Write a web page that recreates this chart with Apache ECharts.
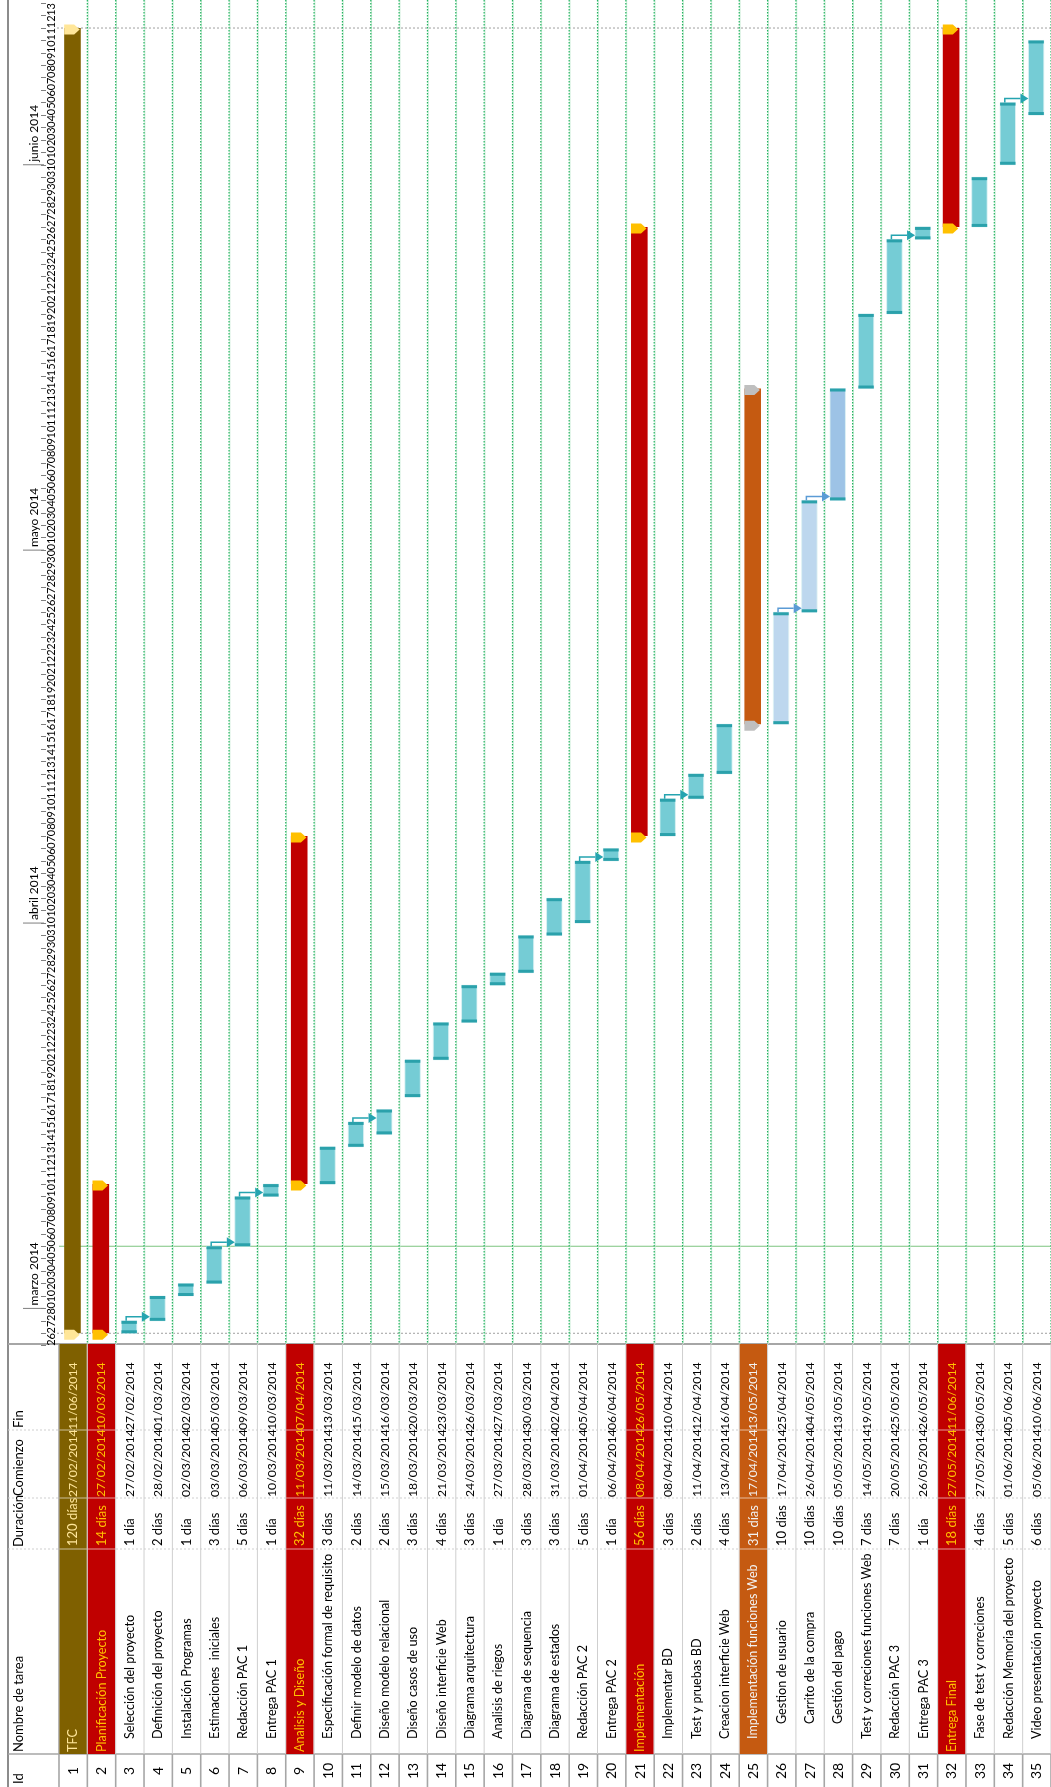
<!DOCTYPE html>
<html><head><meta charset="utf-8">
<script src="https://cdn.jsdelivr.net/npm/echarts@6/dist/echarts.min.js"></script>
<style>html,body{margin:0;padding:0;background:#fff}#c{width:1051px;height:1787px}</style>
</head><body><div id="c"></div>
<script>
// ---------- DATA ----------
const taskNames = ['TFC','Planificación Proyecto','Selección del proyecto','Definición del proyecto','Instalación Programas','Estimaciones  iniciales','Redacción PAC 1','Entrega PAC 1','Analisis y Diseño','Especificación formal de requisitos','Definir modelo de datos','Diseño modelo relacional','Diseño casos de uso','Diseño interficie Web','Diagrama arquitectura','Analisis de riegos','Diagrama de sequencia','Diagrama de estados','Redacción PAC 2','Entrega PAC 2','Implementación','Implementar BD','Test y pruebas BD','Creacion interficie Web','Implementación funciones Web','Gestion de usuario','Carrito de la compra','Gestión del pago','Test y correciones funciones Web','Redacción PAC 3','Entrega PAC 3','Entrega Final','Fase de test y correciones','Redacción Memoria del proyecto','Video presentación proyecto'];
const durations = ['120 días','14 días','1 día','2 días','1 día','3 días','5 días','1 día','32 días','3 días','2 días','2 días','3 días','4 días','3 días','1 día','3 días','3 días','5 días','1 día','56 días','3 días','2 días','4 días','31 días','10 días','10 días','10 días','7 días','7 días','1 día','18 días','4 días','5 días','6 días'];
const startDates = ['27/02/2014','27/02/2014','27/02/2014','28/02/2014','02/03/2014','03/03/2014','06/03/2014','10/03/2014','11/03/2014','11/03/2014','14/03/2014','15/03/2014','18/03/2014','21/03/2014','24/03/2014','27/03/2014','28/03/2014','31/03/2014','01/04/2014','06/04/2014','08/04/2014','08/04/2014','11/04/2014','13/04/2014','17/04/2014','17/04/2014','26/04/2014','05/05/2014','14/05/2014','20/05/2014','26/05/2014','27/05/2014','27/05/2014','01/06/2014','05/06/2014'];
const endDates = ['11/06/2014','10/03/2014','27/02/2014','01/03/2014','02/03/2014','05/03/2014','09/03/2014','10/03/2014','07/04/2014','13/03/2014','15/03/2014','16/03/2014','20/03/2014','23/03/2014','26/03/2014','27/03/2014','30/03/2014','02/04/2014','05/04/2014','06/04/2014','26/05/2014','10/04/2014','12/04/2014','16/04/2014','13/05/2014','25/04/2014','04/05/2014','13/05/2014','19/05/2014','25/05/2014','26/05/2014','11/06/2014','30/05/2014','05/06/2014','10/06/2014'];
const outlineLevel = [0,0,1,1,1,1,1,1,0,1,1,1,1,1,1,1,1,1,1,1,0,1,1,1,1,2,2,2,1,1,1,0,1,1,1];
const projectRows = [1];
const summaryRows = [2,9,21,32];
const subSummaryRows = [25];
const lightTaskRows = [26,27];
const midTaskRows = [28];
const links = [[3,4],[6,7],[7,8],[11,12],[19,20],[22,23],[26,27],[27,28],[30,31],[34,35]];
const timescaleStart = '26/02/2014';
const timescaleEnd = '14/06/2014';
const statusDate = '06/03/2014';
const monthLabels = ['marzo 2014','abril 2014','mayo 2014','junio 2014'];
const monthStarts = ['01/03/2014','01/04/2014','01/05/2014','01/06/2014'];
const headerLabels = ['Id','Nombre de tarea','Duración','Comienzo','Fin'];

// ---------- HELPERS ----------
const FONT = 'Lato, "Liberation Sans", sans-serif';
const DAY = 86400000;
function ts(s){const p=s.split('/').map(Number);return Date.UTC(p[2],p[1]-1,p[0]);}
const axisMin = ts(timescaleStart), axisMax = ts(timescaleEnd);
const dayLabels = [];
for (let t = axisMin; t < axisMax; t += DAY) dayLabels.push(String(new Date(t).getUTCDate()).padStart(2,'0'));
const kindOf = r => projectRows.includes(r)?0: summaryRows.includes(r)?1: subSummaryRows.includes(r)?2: lightTaskRows.includes(r)?4: midTaskRows.includes(r)?5:3;
const kindStyle = {
  0:{body:'#7F6000', cap:'#FFE699', text:'#FFE699'},
  1:{body:'#C00000', cap:'#FFC000', text:'#FFC000'},
  2:{body:'#C55A11', cap:'#BFBFBF', text:'#F2F2F2'},
  3:{fill:'#75CCD5', stripe:'#2BA1AB'},
  4:{fill:'#BDD7EE', stripe:'#2BA1AB'},
  5:{fill:'#9DC3E6', stripe:'#2BA1AB'}
};
const barData = taskNames.map((n,i)=>[i+1, ts(startDates[i]), ts(endDates[i])+DAY, kindOf(i+1)]);
const rowData = taskNames.map((n,i)=>[i+1, axisMin]);

// layout constants (pixels)
const TABLE_TOP = 1344, COL_FIN = 1430, COL_COM = 1498, COL_DUR = 1549, COL_NAME = 1754, BOTTOM = 1787;
const RIGHT = 1051;

function renderBar(params, api){
  const row = api.value(0), k = api.value(3);
  const pS = api.coord([row-0.5, api.value(1)]);
  const pE = api.coord([row-0.5, api.value(2)]);
  const cx = pS[0]-0.7, yS = pS[1], yE = pE[1];
  const st = kindStyle[k];
  const ch = [];
  if (k <= 2) {
    const xL = cx-8.3, w = 16.6;
    ch.push({type:'rect', shape:{x:xL, y:yE, width:w, height:yS-yE}, style:{fill:st.body}});
    [yS+1.5, yE+1.5].forEach(yc=>{
      ch.push({type:'polygon', shape:{points:[[xL,yc-5],[xL+10,yc-5],[xL+15.5,yc],[xL+10,yc+5],[xL,yc+5]]}, style:{fill:st.cap}});
    });
  } else {
    const xL = cx-7.7, w = 15.4;
    ch.push({type:'rect', shape:{x:xL, y:yE, width:w, height:yS-yE}, style:{fill:st.fill, stroke:'#DDF2F4', lineWidth:0.8}});
    ch.push({type:'rect', shape:{x:xL, y:yE, width:w, height:3}, style:{fill:st.stripe}});
    ch.push({type:'rect', shape:{x:xL, y:yS-3, width:w, height:3}, style:{fill:st.stripe}});
  }
  return {type:'group', children:ch};
}

function renderLink(params, api){
  const from = api.value(0), to = api.value(1);
  const tEnd = ts(endDates[from-1]) + DAY;
  const p = api.coord([from-0.5, tEnd]);
  const q = api.coord([to-0.5, tEnd]);
  const hx = p[0]-0.7-3, y = p[1], ya = y-4;
  const nextLeft = q[0]-0.7-7.7;
  const col = lightTaskRows.includes(from) ? '#5B9BD5' : '#25A4B0';
  return {type:'group', children:[
    {type:'polyline', shape:{points:[[hx,y],[hx,ya],[nextLeft-8,ya]]}, style:{stroke:col, lineWidth:1.5, fill:null}},
    {type:'polygon', shape:{points:[[nextLeft-8,ya-5],[nextLeft,ya],[nextLeft-8,ya+5]]}, style:{fill:col}}
  ]};
}

function rtext(x, y, text, opt){
  return {type:'text', x:x, y:y, rotation:Math.PI/2, style:Object.assign({text:text, fill:'#000', font:'12.6px '+FONT, align:'left', verticalAlign:'middle'}, opt||{})};
}

function renderRow(params, api){
  const r = api.value(0);
  const xl = api.coord([r-1, axisMin])[0], xr = api.coord([r, axisMin])[0], xc = (xl+xr)/2;
  const k = kindOf(r);
  const ch = [];
  // vertical green dotted separator above the table
  ch.push({type:'line', shape:{x1:xr+0.8, y1:0, x2:xr+0.8, y2:TABLE_TOP}, style:{stroke:'#C4EBD2', lineWidth:1}, z2:-11});
  ch.push({type:'line', shape:{x1:xr, y1:0, x2:xr, y2:TABLE_TOP}, style:{stroke:'#22B25F', lineWidth:1.2, lineDash:[1.5,1.5]}, z2:-10});
  let txt = '#000';
  if (k <= 2) {
    txt = kindStyle[k].text;
    ch.push({type:'rect', shape:{x:xl+0.5, y:TABLE_TOP, width:xr-xl-1, height:COL_NAME-TABLE_TOP}, style:{fill:kindStyle[k].body}});
    [COL_FIN, COL_COM, COL_DUR].forEach(yy=>ch.push({type:'line', shape:{x1:xl+0.5,y1:yy,x2:xr-0.5,y2:yy}, style:{stroke:'rgba(255,255,255,0.6)', lineWidth:1}}));
  }
  // row separators
  ch.push({type:'line', shape:{x1:xr, y1:TABLE_TOP, x2:xr, y2:COL_NAME}, style:{stroke:'#CFCFCF', lineWidth:1}});
  ch.push({type:'line', shape:{x1:xr, y1:COL_NAME, x2:xr, y2:BOTTOM}, style:{stroke:'#A6A6A6', lineWidth:1.6}});
  const lvl = outlineLevel[r-1];
  const nameStart = lvl===0 ? 1752 : lvl===1 ? 1739 : 1724;
  ch.push(rtext(xc, 1771, String(r), {align:'center', font:'14px '+FONT}));
  ch.push(rtext(xc, nameStart, taskNames[r-1], {fill:txt, width:nameStart-COL_DUR-1, overflow:'truncate', ellipsis:''}));
  ch.push(rtext(xc, 1546, durations[r-1], {fill:txt, font:'13px '+FONT}));
  ch.push(rtext(xc, 1497, startDates[r-1], {fill:txt, font:'12.2px '+FONT}));
  ch.push(rtext(xc, 1430, endDates[r-1], {fill:txt, font:'12.2px '+FONT}));
  return {type:'group', children:ch};
}

function renderGuide(params, api){
  const y = api.coord([0, api.value(1)])[1];
  const kind = api.value(2);
  if (kind === 1) return {type:'line', shape:{x1:59, y1:y, x2:RIGHT, y2:y}, style:{stroke:'#7CC47F', lineWidth:1.2}};
  return {type:'line', shape:{x1:57, y1:y, x2:RIGHT, y2:y}, style:{stroke:'#A0A0A0', lineWidth:1, lineDash:[2,2]}};
}

function renderMonth(params, api){
  const y = api.coord([0, api.value(1)])[1];
  return {type:'group', children:[
    {type:'line', shape:{x1:23, y1:y, x2:44, y2:y}, style:{stroke:'#7F7F7F', lineWidth:1}},
    rtext(34, y-3, monthLabels[api.value(2)], {font:'12px '+FONT})
  ]};
}

const headerPos = [1784, 1752, 1547, 1496, 1428];
const graphics = [
  {type:'line', shape:{x1:8, y1:0, x2:8, y2:BOTTOM}, style:{stroke:'#8C8C8C', lineWidth:2}},
  {type:'line', shape:{x1:8, y1:TABLE_TOP, x2:RIGHT, y2:TABLE_TOP}, style:{stroke:'#A6A6A6', lineWidth:2}},
  {type:'line', shape:{x1:59, y1:TABLE_TOP, x2:59, y2:BOTTOM}, style:{stroke:'#A6A6A6', lineWidth:1.6}},
  {type:'line', shape:{x1:8, y1:COL_NAME, x2:RIGHT, y2:COL_NAME}, style:{stroke:'#A6A6A6', lineWidth:1.6}},
  {type:'line', shape:{x1:8, y1:COL_FIN, x2:RIGHT, y2:COL_FIN}, style:{stroke:'#D0D0D0', lineWidth:1, lineDash:[2,2]}},
  {type:'line', shape:{x1:8, y1:COL_COM, x2:RIGHT, y2:COL_COM}, style:{stroke:'#D0D0D0', lineWidth:1, lineDash:[2,2]}},
  {type:'line', shape:{x1:8, y1:COL_DUR, x2:RIGHT, y2:COL_DUR}, style:{stroke:'#D0D0D0', lineWidth:1, lineDash:[2,2]}}
];
headerLabels.forEach((h,i)=>graphics.push({type:'text', x:19, y:headerPos[i], rotation:Math.PI/2, style:{text:h, fill:'#000', font:'13px '+FONT, align:'left', verticalAlign:'middle'}}));

const chart = echarts.init(document.getElementById('c'), null, {renderer:'canvas'});
chart.setOption({
  animation:false,
  backgroundColor:'#fff',
  grid:{left:59, width:997.5, top:2.2, bottom:441.3, containLabel:false},
  xAxis:{type:'value', min:0, max:35, show:false},
  yAxis:[
    {type:'time', min:axisMin, max:axisMax, show:false},
    {type:'category', data:dayLabels, position:'left', boundaryGap:true,
     axisLine:{show:false}, axisTick:{show:false}, splitLine:{show:false},
     axisLabel:{interval:0, rotate:90, margin:2, fontSize:11, color:'#000', fontFamily:FONT}},
    {type:'category', data:dayLabels, position:'left', offset:13, boundaryGap:true,
     axisLine:{show:false}, axisLabel:{show:false}, splitLine:{show:false},
     axisTick:{show:true, interval:0, length:5, lineStyle:{color:'#7F7F7F'}}}
  ],
  graphic: graphics,
  series:[
    {type:'custom', name:'guides', clip:false, z:1, renderItem:renderGuide,
     data:[[0, ts(startDates[0]), 0],[0, ts(endDates[0])+DAY, 0],[0, ts(statusDate), 1]], encode:{x:0,y:1}},
    {type:'custom', name:'table', clip:false, z:2, renderItem:renderRow, data:rowData, encode:{x:0,y:1}},
    {type:'custom', name:'bars', clip:false, z:3, renderItem:renderBar, data:barData, encode:{x:0,y:[1,2]}},
    {type:'custom', name:'links', clip:false, z:4, renderItem:renderLink, data:links.map(l=>[l[0], l[1], axisMin]), encode:{x:0,y:2}},
    {type:'custom', name:'months', clip:false, z:2, renderItem:renderMonth, data:monthStarts.map((s,i)=>[0, ts(s), i]), encode:{x:0,y:1}}
  ]
});
</script></body></html>
